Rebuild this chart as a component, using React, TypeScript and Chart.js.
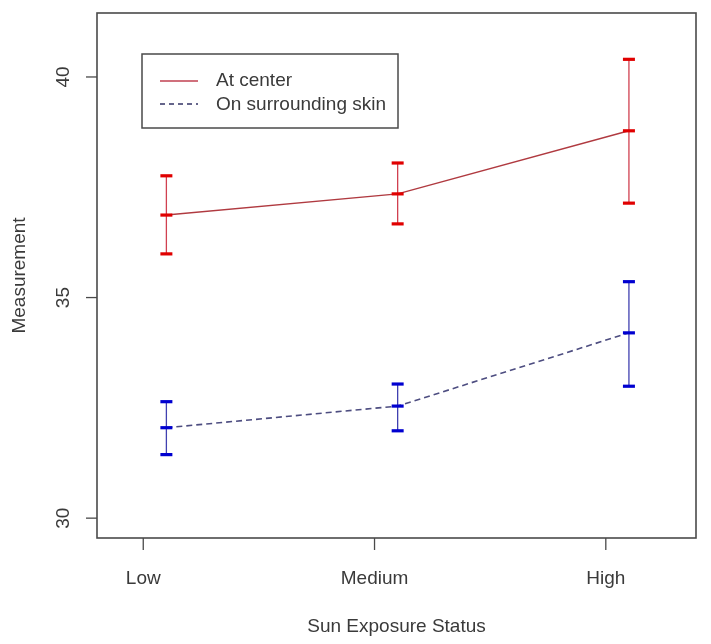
import React, { useEffect, useRef } from "react";
import { Chart, registerables } from "chart.js";

Chart.register(...registerables);

const categories = ["Low", "Medium", "High"];
const categoryPositions = [1, 2, 3];
const pointOffset = 0.1;
const yTicks = [30, 35, 40];

const centerMean = [36.87, 37.35, 38.78];
const centerLower = [35.99, 36.67, 37.14];
const centerUpper = [37.76, 38.05, 40.4];

const skinMean = [32.05, 32.54, 34.2];
const skinLower = [31.44, 31.98, 32.99];
const skinUpper = [32.64, 33.04, 35.36];

const seriesNames = ["At center", "On surrounding skin"];

const FONT = '19px "Liberation Sans", Arial, sans-serif';
const TEXT = "#3a3a3a";

const errorBars = [
  { mean: centerMean, lower: centerLower, upper: centerUpper, stem: "#d04050", cap: "#e00000" },
  { mean: skinMean, lower: skinLower, upper: skinUpper, stem: "#4040b0", cap: "#0000d0" },
];

const decorPlugin = {
  id: "decor",
  afterDatasetsDraw(chart: any) {
    const ctx = chart.ctx;
    const xs = chart.scales.x;
    const ys = chart.scales.y;
    ctx.save();
    errorBars.forEach((s) => {
      s.mean.forEach((m, i) => {
        const px = xs.getPixelForValue(categoryPositions[i] + pointOffset);
        const yl = ys.getPixelForValue(s.lower[i]);
        const yu = ys.getPixelForValue(s.upper[i]);
        const ym = ys.getPixelForValue(m);
        ctx.strokeStyle = s.stem;
        ctx.lineWidth = 1.3;
        ctx.setLineDash([]);
        ctx.beginPath();
        ctx.moveTo(px, yu);
        ctx.lineTo(px, yl);
        ctx.stroke();
        ctx.strokeStyle = s.cap;
        ctx.lineWidth = 3.2;
        [yl, yu, ym].forEach((yy) => {
          ctx.beginPath();
          ctx.moveTo(px - 6, yy);
          ctx.lineTo(px + 6, yy);
          ctx.stroke();
        });
      });
    });
    ctx.restore();
  },
  afterDraw(chart: any) {
    const ctx = chart.ctx;
    const { left, right, top, bottom } = chart.chartArea;
    const xs = chart.scales.x;
    const ys = chart.scales.y;
    ctx.save();
    // box
    ctx.strokeStyle = "#4a4a4a";
    ctx.lineWidth = 1.6;
    ctx.setLineDash([]);
    ctx.strokeRect(left, top, right - left, bottom - top);

    ctx.font = FONT;
    ctx.fillStyle = TEXT;
    ctx.strokeStyle = "#4a4a4a";
    ctx.lineWidth = 1.3;
    // y ticks
    yTicks.forEach((v) => {
      const y = ys.getPixelForValue(v);
      ctx.beginPath();
      ctx.moveTo(left - 11, y);
      ctx.lineTo(left, y);
      ctx.stroke();
      ctx.save();
      ctx.translate(64, y);
      ctx.rotate(-Math.PI / 2);
      ctx.textAlign = "center";
      ctx.textBaseline = "middle";
      ctx.fillText(String(v), 0, 0);
      ctx.restore();
    });
    ctx.save();
    ctx.translate(20, (top + bottom) / 2);
    ctx.rotate(-Math.PI / 2);
    ctx.textAlign = "center";
    ctx.textBaseline = "middle";
    ctx.fillText("Measurement", 0, 0);
    ctx.restore();

    // x ticks
    categories.forEach((c, i) => {
      const x = xs.getPixelForValue(categoryPositions[i]);
      ctx.beginPath();
      ctx.moveTo(x, bottom);
      ctx.lineTo(x, bottom + 12);
      ctx.stroke();
      ctx.textAlign = "center";
      ctx.textBaseline = "middle";
      ctx.fillText(c, x, 579);
    });
    ctx.textAlign = "center";
    ctx.textBaseline = "middle";
    ctx.fillText("Sun Exposure Status", (left + right) / 2, 627);

    // legend
    const lx = left + 45;
    const ly = top + 41;
    const lw = 256;
    const lh = 74;
    ctx.fillStyle = "#ffffff";
    ctx.fillRect(lx, ly, lw, lh);
    ctx.strokeStyle = "#4a4a4a";
    ctx.lineWidth = 1.5;
    ctx.strokeRect(lx, ly, lw, lh);
    ctx.lineWidth = 1.3;
    ctx.strokeStyle = "#c04050";
    ctx.beginPath();
    ctx.moveTo(lx + 18, ly + 27);
    ctx.lineTo(lx + 56, ly + 27);
    ctx.stroke();
    ctx.strokeStyle = "#333366";
    ctx.setLineDash([5, 4]);
    ctx.beginPath();
    ctx.moveTo(lx + 18, ly + 50);
    ctx.lineTo(lx + 56, ly + 50);
    ctx.stroke();
    ctx.setLineDash([]);
    ctx.fillStyle = TEXT;
    ctx.textAlign = "left";
    ctx.textBaseline = "middle";
    ctx.fillText(seriesNames[0], lx + 74, ly + 27);
    ctx.fillText(seriesNames[1], lx + 74, ly + 51);
    ctx.restore();
  },
};

export default function App() {
  const ref = useRef<HTMLCanvasElement>(null);
  useEffect(() => {
    if (!ref.current) return;
    const chart = new Chart(ref.current, {
      type: "line",
      data: {
        datasets: [
          {
            label: seriesNames[0],
            data: centerMean.map((v, i) => ({ x: categoryPositions[i] + pointOffset, y: v })),
            borderColor: "#b03a40",
            borderWidth: 1.5,
            pointRadius: 0,
            tension: 0,
          },
          {
            label: seriesNames[1],
            data: skinMean.map((v, i) => ({ x: categoryPositions[i] + pointOffset, y: v })),
            borderColor: "#4d4d80",
            borderWidth: 1.6,
            borderDash: [6, 4],
            pointRadius: 0,
            tension: 0,
          },
        ],
      },
      options: {
        responsive: false,
        animation: false,
        devicePixelRatio: 1,
        layout: { padding: { top: 13, right: 15, left: 0, bottom: 0 } },
        plugins: { legend: { display: false }, tooltip: { enabled: false } },
        scales: {
          x: {
            type: "linear",
            min: 0.8,
            max: 3.39,
            grid: { display: false },
            border: { display: false },
            ticks: { display: false },
            afterFit: (s: any) => {
              s.height = 106;
            },
          },
          y: {
            type: "linear",
            min: 29.55,
            max: 41.45,
            grid: { display: false },
            border: { display: false },
            ticks: { display: false },
            afterFit: (s: any) => {
              s.width = 97;
            },
          },
        },
      },
      plugins: [decorPlugin],
    });
    return () => chart.destroy();
  }, []);
  return (
    <div style={{ position: "fixed", left: 0, top: 0, width: 711, height: 644, background: "#fff" }}>
      <canvas ref={ref} width={711} height={644} style={{ width: 711, height: 644 }} />
    </div>
  );
}
